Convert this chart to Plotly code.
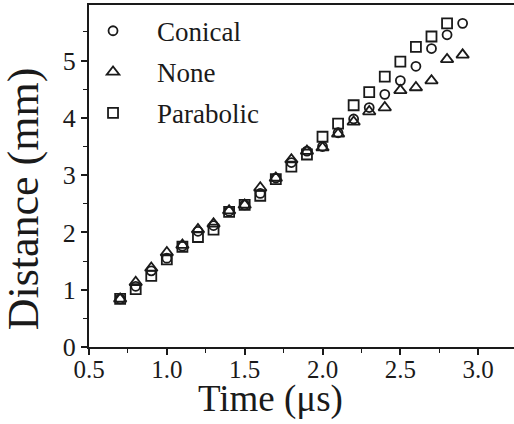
import plotly.graph_objects as go

time_conical = [0.7, 0.8, 0.9, 1.0, 1.1, 1.2, 1.3, 1.4, 1.5, 1.6, 1.7, 1.8, 1.9, 2.0, 2.1, 2.2, 2.3, 2.4, 2.5, 2.6, 2.7, 2.8, 2.9]
dist_conical = [0.84, 1.06, 1.33, 1.55, 1.76, 2.02, 2.12, 2.37, 2.48, 2.68, 2.95, 3.22, 3.42, 3.50, 3.74, 3.98, 4.18, 4.41, 4.65, 4.90, 5.21, 5.45, 5.65]

time_none = [0.7, 0.8, 0.9, 1.0, 1.1, 1.2, 1.3, 1.4, 1.5, 1.6, 1.7, 1.8, 1.9, 2.0, 2.1, 2.2, 2.3, 2.4, 2.5, 2.6, 2.7, 2.8, 2.9]
dist_none = [0.84, 1.13, 1.38, 1.65, 1.78, 2.05, 2.15, 2.38, 2.48, 2.78, 2.95, 3.27, 3.42, 3.48, 3.72, 3.93, 4.11, 4.18, 4.48, 4.53, 4.65, 5.02, 5.10]

time_parabolic = [0.7, 0.8, 0.9, 1.0, 1.1, 1.2, 1.3, 1.4, 1.5, 1.6, 1.7, 1.8, 1.9, 2.0, 2.1, 2.2, 2.3, 2.4, 2.5, 2.6, 2.7, 2.8]
dist_parabolic = [0.84, 1.01, 1.24, 1.53, 1.75, 1.92, 2.05, 2.36, 2.48, 2.64, 2.93, 3.15, 3.36, 3.67, 3.90, 4.22, 4.45, 4.72, 4.98, 5.24, 5.42, 5.65]

x_ticks = [0.5, 1.0, 1.5, 2.0, 2.5, 3.0]
x_tick_labels = ["0.5", "1.0", "1.5", "2.0", "2.5", "3.0"]
y_ticks = [0, 1, 2, 3, 4, 5]
y_tick_labels = ["0", "1", "2", "3", "4", "5"]
x_title = "Time (μs)"
y_title = "Distance (mm)"

FONT = "Liberation Serif, Times New Roman, serif"
INK = "#1a1a1a"

fig = go.Figure()
series = [
    ("Conical", time_conical, dist_conical, "circle-open", 9),
    ("None", time_none, dist_none, "triangle-up-open", 11),
    ("Parabolic", time_parabolic, dist_parabolic, "square-open", 10),
]
for name, xs, ys, sym, sz in series:
    fig.add_trace(go.Scatter(
        x=xs, y=ys, mode="markers", name=name, legendgroup=name,
        marker=dict(symbol=sym, size=sz, color=INK, line=dict(width=1.8, color=INK)),
    ))

fig.update_layout(
    width=514, height=424,
    margin=dict(l=89, r=0, t=5, b=77),
    paper_bgcolor="white", plot_bgcolor="white",
    font=dict(family=FONT, color=INK),
    showlegend=True,
    legend=dict(
        x=-0.047, y=0.995, xanchor="left", yanchor="top",
        font=dict(family=FONT, size=27, color=INK),
        bgcolor="rgba(0,0,0,0)", itemwidth=78,
        traceorder="grouped", tracegroupgap=3,
    ),
    xaxis=dict(
        range=[0.5, 3.23], tickmode="array", tickvals=x_ticks, ticktext=x_tick_labels,
        showgrid=False, zeroline=False, showline=True, linecolor=INK, linewidth=2,
        mirror=True, ticks="outside", ticklen=6, tickwidth=1.5, tickcolor=INK,
        tickfont=dict(family=FONT, size=25, color=INK), automargin=False,
        ticklabelstandoff=-7,
        minor=dict(dtick=0.25, tick0=0.5, ticks="outside", ticklen=4, tickwidth=1.2, tickcolor=INK),
    ),
    yaxis=dict(
        range=[0, 5.97], tickmode="array", tickvals=y_ticks, ticktext=y_tick_labels,
        showgrid=False, zeroline=False, showline=True, linecolor=INK, linewidth=2,
        mirror=False, ticks="outside", ticklen=6, tickwidth=1.5, tickcolor=INK,
        tickfont=dict(family=FONT, size=26, color=INK), automargin=False,
        minor=dict(dtick=0.5, tick0=0, ticks="outside", ticklen=4, tickwidth=1.2, tickcolor=INK),
    ),
    annotations=[
        dict(text=x_title, xref="paper", yref="paper", x=0.426, y=-0.152,
             xanchor="center", yanchor="middle", showarrow=False,
             font=dict(family=FONT, size=37, color=INK)),
        dict(text=y_title, xref="paper", yref="paper", x=-0.152, y=0.433,
             xanchor="center", yanchor="middle", showarrow=False, textangle=-90,
             font=dict(family=FONT, size=44, color=INK)),
    ],
)

fig.write_html("out.html", config={"displayModeBar": False},
               post_script="document.body.style.margin='0';")
